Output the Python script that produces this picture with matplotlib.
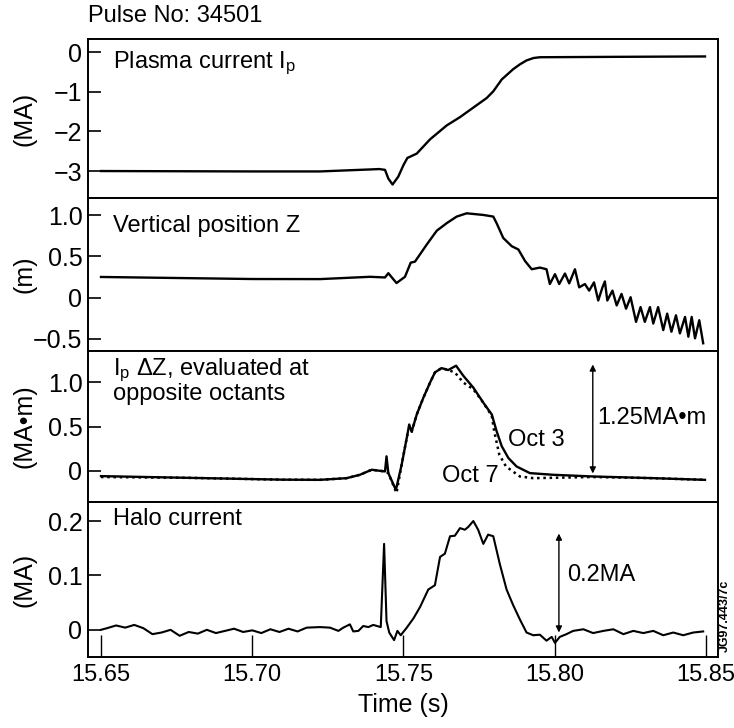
import matplotlib
matplotlib.use("Agg")
import matplotlib.pyplot as plt

plt.rcParams['font.family'] = ['Liberation Sans', 'DejaVu Sans']
plt.rcParams['mathtext.fontset'] = 'custom'
plt.rcParams['mathtext.rm'] = 'Liberation Sans'
plt.rcParams['mathtext.it'] = 'Liberation Sans'

# --- data ----------------------------------------------------------------
# plasma current Ip (MA)
ip_t = [15.650, 15.700, 15.7224, 15.7389, 15.7420, 15.7439, 15.7450, 15.7464,
        15.7483, 15.7500, 15.7513, 15.7544, 15.7588, 15.7643, 15.7687, 15.7742,
        15.7775, 15.7797, 15.7825, 15.7863, 15.7885, 15.7907, 15.7930, 15.7951,
        15.8200, 15.8497]
ip_v = [-3.00, -3.01, -3.01, -2.96, -2.95, -2.97, -3.19, -3.34,
        -3.14, -2.85, -2.67, -2.56, -2.20, -1.85, -1.64, -1.34,
        -1.16, -0.99, -0.69, -0.43, -0.31, -0.21, -0.15, -0.13,
        -0.12, -0.11]

# vertical position Z (m)
z_t = [15.650, 15.680, 15.700, 15.7224, 15.7389, 15.7439, 15.7450, 15.7477,
       15.7505, 15.7524, 15.7538, 15.7577, 15.7610, 15.7643, 15.7676, 15.7709,
       15.7764, 15.7797, 15.7808, 15.7830, 15.7858, 15.7880, 15.7902, 15.7924,
       15.7951, 15.7973,
       15.7984, 15.8001, 15.8015, 15.8034, 15.8048, 15.8067, 15.8081, 15.8100,
       15.8114, 15.8130, 15.8144, 15.8158, 15.8166, 15.8174, 15.8191, 15.8205,
       15.8221, 15.8236, 15.8251, 15.8269, 15.8284, 15.8298, 15.8315, 15.8326,
       15.8342, 15.8359, 15.8372, 15.8386, 15.8401, 15.8414, 15.8431, 15.8442,
       15.8453, 15.8464, 15.8478, 15.8491]
z_v = [0.250, 0.235, 0.225, 0.224, 0.252, 0.244, 0.296, 0.176,
       0.252, 0.424, 0.436, 0.644, 0.812, 0.904, 0.984, 1.024,
       1.004, 0.984, 0.904, 0.724, 0.624, 0.584, 0.444, 0.344,
       0.364, 0.344,
       0.164, 0.284, 0.164, 0.292, 0.172, 0.344, 0.124, 0.164,
       0.084, 0.184, -0.036, 0.124, 0.196, -0.036, 0.084, -0.096,
       0.044, -0.136, 0.004, -0.296, -0.116, -0.296, -0.116, -0.316,
       -0.116, -0.396, -0.196, -0.416, -0.216, -0.436, -0.236, -0.476,
       -0.236, -0.496, -0.276, -0.556]

# Ip*dZ at opposite octants (MA m), solid = Oct 3, dotted = Oct 7
oct3_t = [15.650, 15.680, 15.710, 15.7224, 15.7312, 15.7356, 15.7395, 15.7422,
          15.7439, 15.7444, 15.7450, 15.7475, 15.7494, 15.7513, 15.7519, 15.7527,
          15.7544, 15.7566, 15.7588, 15.7604, 15.7626, 15.7648, 15.7674, 15.7698,
          15.7731, 15.7764, 15.7792, 15.7808, 15.7825, 15.7847, 15.7874, 15.7918,
          15.7995, 15.8127, 15.8326, 15.8497]
oct3_v = [-0.06, -0.08, -0.10, -0.102, -0.083, -0.045, 0.012, 0.000,
          -0.007, 0.163, -0.026, -0.216, 0.068, 0.409, 0.523, 0.440,
          0.636, 0.826, 0.996, 1.110, 1.159, 1.137, 1.186, 1.072,
          0.939, 0.769, 0.636, 0.447, 0.277, 0.144, 0.049, -0.026,
          -0.045, -0.064, -0.083, -0.102]
oct7_t = [15.650, 15.680, 15.710, 15.7224, 15.7312, 15.7356, 15.7395, 15.7422,
          15.7439, 15.7450, 15.7477, 15.7494, 15.7513, 15.7527, 15.7544, 15.7566,
          15.7588, 15.7604, 15.7626, 15.7648, 15.7670, 15.7698, 15.7731, 15.7764,
          15.7792, 15.7800, 15.7817, 15.7839, 15.7885, 15.7929, 15.8127, 15.8326,
          15.8497]
oct7_v = [-0.07, -0.08, -0.10, -0.102, -0.083, -0.045, 0.012, 0.000,
          -0.007, -0.026, -0.250, 0.068, 0.409, 0.440, 0.636, 0.826,
          0.996, 1.110, 1.159, 1.137, 1.110, 0.996, 0.920, 0.769,
          0.620, 0.447, 0.182, 0.049, -0.064, -0.083, -0.070, -0.083,
          -0.102]

# halo current (MA)
halo_t = [15.650, 15.652, 15.655, 15.658, 15.661, 15.664, 15.667, 15.670,
          15.673, 15.676, 15.679, 15.682, 15.685, 15.688, 15.691, 15.694,
          15.697, 15.700, 15.703, 15.706, 15.709, 15.712, 15.715, 15.718,
          15.7224, 15.7257, 15.7285, 15.7301, 15.7323, 15.7334, 15.7351, 15.7367,
          15.7384, 15.7400, 15.7425, 15.7436, 15.7444, 15.7453, 15.7469, 15.7480,
          15.7491, 15.7511, 15.7533, 15.7555, 15.7582, 15.7604, 15.7621, 15.7637,
          15.7654, 15.7670, 15.7687, 15.7703, 15.7714, 15.7731, 15.7747, 15.7764,
          15.7780, 15.7797, 15.7819, 15.7841, 15.7863, 15.7885, 15.7907, 15.7929,
          15.7951, 15.7973, 15.7990, 15.8001, 15.8017, 15.8039, 15.8061, 15.8095,
          15.8127, 15.8161, 15.8194, 15.8227, 15.8260, 15.8293, 15.8326, 15.8359,
          15.8392, 15.8425, 15.8458, 15.8491]
halo_v = [0.000, 0.003, 0.008, 0.004, 0.009, 0.003, -0.008, -0.005,
          0.000, -0.011, -0.004, -0.007, 0.000, -0.006, -0.002, 0.002,
          -0.004, -0.001, -0.006, 0.001, -0.004, 0.002, -0.003, 0.004,
          0.005, 0.004, -0.002, 0.004, 0.010, -0.003, -0.002, 0.007,
          0.005, 0.009, 0.005, 0.158, 0.016, -0.005, -0.019, -0.002,
          -0.010, 0.004, 0.021, 0.042, 0.074, 0.082, 0.134, 0.140,
          0.172, 0.173, 0.187, 0.184, 0.189, 0.200, 0.184, 0.158,
          0.175, 0.172, 0.120, 0.074, 0.045, 0.019, -0.005, -0.010,
          -0.009, -0.020, -0.013, -0.024, -0.013, -0.008, -0.002, 0.001,
          -0.006, -0.002, 0.001, -0.008, -0.002, -0.006, -0.002, -0.010,
          -0.005, -0.010, -0.005, -0.003]

x_ticks = [15.65, 15.70, 15.75, 15.80, 15.85]
x_labels = ['15.65', '15.70', '15.75', '15.80', '15.85']

# --- figure -------------------------------------------------------------
W, H = 734, 728
fig = plt.figure(figsize=(W / 100, H / 100), dpi=100)


def px_axes(top, bottom):
    return fig.add_axes([88 / W, 1 - bottom / H, (718 - 88) / W, (bottom - top) / H])


ax1 = px_axes(39, 198)
ax2 = px_axes(198, 351)
ax3 = px_axes(351, 502)
ax4 = px_axes(502, 657)
axes = [ax1, ax2, ax3, ax4]

for ax in axes:
    ax.set_xlim(15.6457, 15.854)
    for s in ax.spines.values():
        s.set_linewidth(1.4)
    ax.tick_params(axis='y', direction='in', length=9, width=1.2, labelsize=18, pad=4)
    ax.tick_params(axis='x', direction='in', length=0, labelbottom=False)

ax4.set_xticks(x_ticks)
ax4.set_xticklabels(x_labels)
ax4.tick_params(axis='x', direction='in', length=16, width=1.0, labelbottom=True,
                labelsize=17, pad=5)

ax1.plot(ip_t, ip_v, color='black', lw=1.7)
ax1.set_ylim(-3.68, 0.33)
ax1.set_yticks([0, -1, -2, -3])
ax1.set_yticklabels(['0', '\u22121', '\u22122', '\u22123'])
ax1.set_ylabel('(MA)', fontsize=18)
ax1.text(0.04, 0.85, r'Plasma current I$_\mathrm{p}$', transform=ax1.transAxes,
         fontsize=17, va='center')

ax2.plot(z_t, z_v, color='black', lw=1.7)
ax2.set_ylim(-0.65, 1.21)
ax2.set_yticks([1.0, 0.5, 0, -0.5])
ax2.set_yticklabels(['1.0', '0.5', '0', '\u22120.5'])
ax2.set_ylabel('(m)', fontsize=18)
ax2.text(0.04, 0.82, 'Vertical position Z', transform=ax2.transAxes,
         fontsize=17, va='center')

ax3.plot(oct7_t, oct7_v, color='black', lw=1.8, ls=(0, (1, 1.5)))
ax3.plot(oct3_t, oct3_v, color='black', lw=1.7)
ax3.set_ylim(-0.352, 1.352)
ax3.set_yticks([1.0, 0.5, 0])
ax3.set_yticklabels(['1.0', '0.5', '0'])
ax3.set_ylabel('(MA\u2022m)', fontsize=18)
ax3.text(0.04, 0.80, r'I$_\mathrm{p}$ ΔZ, evaluated at' + '\nopposite octants',
         transform=ax3.transAxes, fontsize=17, va='center', linespacing=0.95)
ax3.annotate('', xy=(15.8126, 1.20), xytext=(15.8126, -0.03),
             arrowprops=dict(arrowstyle='<|-|>', lw=1.0, color='black',
                             mutation_scale=9, shrinkA=0, shrinkB=0))
ax3.text(15.8140, 0.60, '1.25MA\u2022m', fontsize=17, va='center')
ax3.text(15.7845, 0.35, 'Oct 3', fontsize=17, va='center')
ax3.text(15.7627, -0.06, 'Oct 7', fontsize=17, va='center')

ax4.plot(halo_t, halo_v, color='black', lw=1.5)
ax4.set_ylim(-0.05, 0.235)
ax4.set_yticks([0.2, 0.1, 0])
ax4.set_yticklabels(['0.2', '0.1', '0'])
ax4.set_ylabel('(MA)', fontsize=18)
ax4.text(0.04, 0.89, 'Halo current', transform=ax4.transAxes,
         fontsize=17, va='center')
ax4.annotate('', xy=(15.8014, 0.177), xytext=(15.8014, -0.005),
             arrowprops=dict(arrowstyle='<|-|>', lw=1.0, color='black',
                             mutation_scale=9, shrinkA=0, shrinkB=0))
ax4.text(15.8040, 0.10, '0.2MA', fontsize=17, va='center')
ax4.set_xlabel('Time (s)', fontsize=18, labelpad=5)

# line up the y labels at the same x position
for ax in axes:
    ax.yaxis.set_label_coords(-0.082, 0.5)

fig.text(88 / W, 1 - 16 / H, 'Pulse No: 34501', fontsize=17, va='center')
fig.text(725 / W, 1 - 616 / H, 'JG97.443/7c', fontsize=9, rotation=90,
         va='center', ha='center', fontweight='bold')

fig.savefig('out.png', dpi=100)
